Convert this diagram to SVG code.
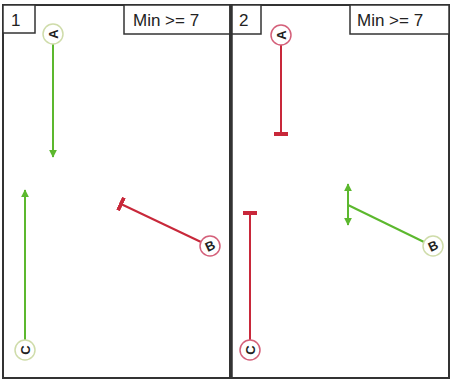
<svg xmlns="http://www.w3.org/2000/svg" width="452" height="381" viewBox="0 0 452 381">
<defs>
<marker id="ag" viewBox="0 0 10 10" refX="9" refY="5" markerWidth="4" markerHeight="4" orient="auto-start-reverse"><path d="M0,0 L10,5 L0,10 z" fill="#5cb82e"/></marker>
<marker id="tr" viewBox="0 0 4 14" refX="2" refY="7" markerWidth="2" markerHeight="7" orient="auto"><rect x="0" y="0" width="4" height="14" fill="#c8283a"/></marker>
</defs>
<style>
.frame{fill:#fff;stroke:#333;stroke-width:2}
.lbl{fill:#fff;stroke:#333;stroke-width:1.5}
.t{font-family:"Liberation Sans",Arial,sans-serif;font-size:17px;fill:#222}
.n{font-family:"Liberation Sans",Arial,sans-serif;font-size:13px;font-weight:bold;fill:#222}
.cg{fill:#fff;stroke:#cfdcaa;stroke-width:1.5}
.cr{fill:#fff;stroke:#d4607a;stroke-width:1.5}
.g{stroke:#5cb82e;stroke-width:2;fill:none}
.r{stroke:#c8283a;stroke-width:2;fill:none}
</style>
<rect width="452" height="381" fill="#fff"/>
<g id="panel1">
<rect class="frame" x="3" y="5" width="227" height="373"/>
<rect class="lbl" x="3" y="5" width="32" height="28"/>
<text class="t" x="11" y="26">1</text>
<rect class="lbl" x="124" y="5" width="106" height="29"/>
<text class="t" x="133" y="26">Min &gt;= 7</text>
</g>
<g id="panel2">
<rect class="frame" x="231" y="5" width="218" height="373"/>
<line x1="231" y1="5" x2="231" y2="378" stroke="#333" stroke-width="3.5"/>
<rect class="lbl" x="232" y="5" width="29" height="29"/>
<text class="t" x="239" y="26">2</text>
<rect class="lbl" x="350" y="5" width="99" height="29"/>
<text class="t" x="357" y="26">Min &gt;= 7</text>
</g>
<g id="connectors">
<line class="g" x1="53" y1="44" x2="53" y2="157" marker-end="url(#ag)"/>
<line class="g" x1="25" y1="340" x2="25" y2="190" marker-end="url(#ag)"/>
<line class="r" x1="201" y1="242" x2="121" y2="204" marker-end="url(#tr)"/>
<line class="r" x1="281" y1="45" x2="281" y2="134" marker-end="url(#tr)"/>
<line class="r" x1="250" y1="340" x2="250" y2="213" marker-end="url(#tr)"/>
<line class="g" x1="424" y1="242" x2="348" y2="205"/>
<line class="g" x1="348" y1="184" x2="348" y2="225" marker-start="url(#ag)" marker-end="url(#ag)"/>
</g>
<g id="A1"><circle class="cg" cx="53" cy="34" r="10"/><text class="n" x="53" y="38.5" text-anchor="middle" transform="rotate(-90 53 34)">A</text></g>
<g id="C1"><circle class="cg" cx="25" cy="350" r="10"/><text class="n" x="25" y="354.5" text-anchor="middle" transform="rotate(-90 25 350)">C</text></g>
<g id="B1"><circle class="cr" cx="210" cy="246" r="10"/><text class="n" x="210" y="250.5" text-anchor="middle" transform="rotate(-25 210 246)">B</text></g>
<g id="A2"><circle class="cr" cx="281" cy="35" r="10"/><text class="n" x="281" y="39.5" text-anchor="middle" transform="rotate(-90 281 35)">A</text></g>
<g id="C2"><circle class="cr" cx="250" cy="350" r="10"/><text class="n" x="250" y="354.5" text-anchor="middle" transform="rotate(-90 250 350)">C</text></g>
<g id="B2"><circle class="cg" cx="433" cy="246" r="10"/><text class="n" x="433" y="250.5" text-anchor="middle" transform="rotate(-25 433 246)">B</text></g>
</svg>
